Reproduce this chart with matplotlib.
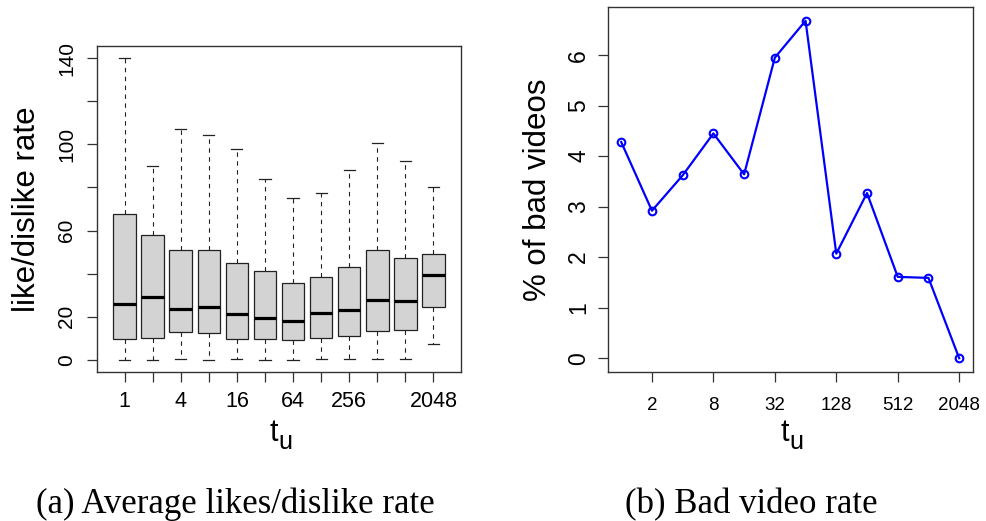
import matplotlib
matplotlib.use("Agg")
import matplotlib.pyplot as plt
import numpy as np

plt.rcParams['font.family'] = ['Liberation Sans', 'DejaVu Sans']

# t_u values (powers of two)
t_u = [1, 2, 4, 8, 16, 32, 64, 128, 256, 512, 1024, 2048]
t_labels = ['1', '', '4', '', '16', '', '64', '', '256', '', '', '2048']

# (a) box plot statistics
whislo = [0, 0, 0.2, 0, 0.2, 0, 0, 0.5, 0.5, 0.5, 0.3, 7.3]
q1 = [9.6, 10.4, 12.8, 12.5, 9.6, 9.7, 9.3, 10.2, 11.0, 13.3, 14.1, 24.4]
med = [25.8, 29.1, 23.8, 24.4, 21.5, 19.6, 18.1, 21.6, 23.2, 27.7, 27.2, 39.3]
q3 = [67.8, 58.0, 51.2, 50.8, 45.0, 41.4, 35.9, 38.6, 43.3, 51.2, 47.4, 49.0]
whishi = [140, 89.8, 106.9, 104.5, 97.8, 83.8, 75.0, 77.4, 88.1, 100.6, 92.4, 80.2]

# (b) percentage of bad videos
bad_pct = [4.28, 2.92, 3.62, 4.45, 3.64, 5.95, 6.68, 2.07, 3.27, 1.61, 1.59, 0.0]

W, H = 986, 521
fig = plt.figure(figsize=(W / 100, H / 100), dpi=100)

def px_axes(l, t, r, b):
    return fig.add_axes([l / W, 1 - b / H, (r - l) / W, (b - t) / H])

frame_col = '#333333'

# ---------- (a) ----------
ax1 = px_axes(97, 46, 461, 372)
stats = []
for i in range(len(t_u)):
    stats.append(dict(whislo=whislo[i], q1=q1[i], med=med[i], q3=q3[i],
                      whishi=whishi[i], fliers=[]))
pos = np.arange(1, len(t_u) + 1)
ax1.bxp(stats, positions=pos, widths=0.8, capwidths=0.4, patch_artist=True,
        showfliers=False,
        boxprops=dict(facecolor='#D3D3D3', edgecolor='#222222', linewidth=0.9),
        medianprops=dict(color='black', linewidth=2.3, solid_capstyle='butt'),
        whiskerprops=dict(color='#222222', linewidth=0.8, linestyle=(0, (4, 4))),
        capprops=dict(color='#222222', linewidth=0.9))
ax1.set_xlim(0.02, 12.98)
ax1.set_ylim(-5.6, 145.6)
ax1.set_xticks(pos)
ax1.set_xticklabels(t_labels)
yt = [0, 20, 40, 60, 80, 100, 120, 140]
ax1.set_yticks(yt)
ax1.set_yticklabels(['0', '20', '', '60', '', '100', '', '140'])
ax1.tick_params(axis='x', length=7, width=0.9, color=frame_col, labelsize=15.5, pad=7)
ax1.tick_params(axis='y', length=7, width=0.9, color=frame_col, labelsize=15, pad=8,
                labelrotation=90)
for lab in ax1.get_yticklabels():
    lab.set_va('center')
for s in ax1.spines.values():
    s.set_color(frame_col)
    s.set_linewidth(1.0)

# ---------- (b) ----------
ax2 = px_axes(607.7, 7.3, 972.7, 371.7)
ax2.plot(t_u, bad_pct, color='#0000FF', linewidth=1.6, marker='o',
         markersize=5.5, markerfacecolor='none', markeredgewidth=1.5)
ax2.set_xscale('log', base=2)
ax2.set_xlim(2 ** -0.44, 2 ** 11.44)
ax2.set_ylim(-0.267, 6.947)
ax2.set_xticks([2, 8, 32, 128, 512, 2048])
ax2.set_xticklabels(['2', '8', '32', '128', '512', '2048'])
ax2.minorticks_off()
ax2.set_yticks(range(7))
ax2.tick_params(axis='x', length=7, width=0.9, color=frame_col, labelsize=13.5, pad=11.5)
ax2.tick_params(axis='y', length=7, width=0.9, color=frame_col, labelsize=16.5, pad=5.5,
                labelrotation=90)
for lab in ax2.get_yticklabels():
    lab.set_va('center')
for s in ax2.spines.values():
    s.set_color(frame_col)
    s.set_linewidth(1.0)

# axis titles
fig.text(27 / W, 1 - 209 / H, 'like/dislike rate', rotation=90, ha='center',
         va='center', fontsize=22.5)
fig.text(538 / W, 1 - 189.5 / H, '% of bad videos', rotation=90, ha='center',
         va='center', fontsize=22.5)

for xc in (279, 790):
    fig.text((xc - 1) / W, 1 - 441 / H, 't', ha='right', va='baseline', fontsize=22)
    fig.text((xc - 1) / W, 1 - 449 / H, 'u', ha='left', va='baseline', fontsize=18)

# captions
fig.text(235 / W, 1 - 513 / H, '(a) Average likes/dislike rate', ha='center',
         va='baseline', fontsize=25, family='Liberation Serif')
fig.text(751 / W, 1 - 513 / H, '(b) Bad video rate', ha='center',
         va='baseline', fontsize=25, family='Liberation Serif')

fig.savefig('out.png', dpi=100)
